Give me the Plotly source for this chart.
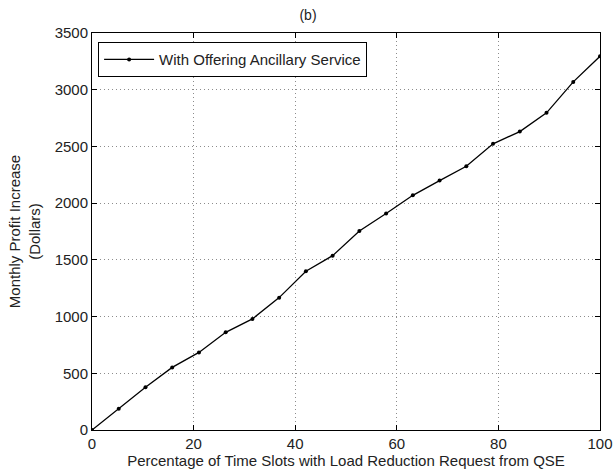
import plotly.graph_objects as go

x_vals = [0, 5.263, 10.526, 15.789, 21.053, 26.316, 31.579, 36.842, 42.105, 47.368,
          52.632, 57.895, 63.158, 68.421, 73.684, 78.947, 84.211, 89.474, 94.737, 100]
profit = [0, 188, 376, 552, 684, 861, 979, 1167, 1399, 1537,
          1755, 1908, 2069, 2199, 2325, 2523, 2631, 2796, 3069, 3295]
series_name = "With Offering Ancillary Service"

font_family = "Liberation Sans, Arial, sans-serif"
fs = 15

fig = go.Figure()
fig.add_trace(go.Scatter(
    x=x_vals, y=profit, mode="lines+markers", name=series_name,
    line=dict(color="black", width=1.3),
    marker=dict(color="black", size=4),
))

axis_common = dict(
    showline=True, linecolor="black", linewidth=1, mirror="ticks",
    ticks="inside", ticklen=5, tickcolor="black",
    showgrid=True, gridcolor="#8c8c8c", griddash="1px,3px", gridwidth=1,
    zeroline=False, automargin=False,
    tickfont=dict(family=font_family, size=fs, color="#222"),
)

fig.update_layout(
    width=616, height=471,
    margin=dict(l=92, r=16, t=33, b=41),
    paper_bgcolor="white", plot_bgcolor="white",
    title=dict(text="(b)", x=0.5, xanchor="center", y=1 - 15 / 471, yanchor="middle",
               font=dict(family=font_family, size=fs - 1, color="#222")),
    xaxis=dict(range=[0, 100], tickvals=[0, 20, 40, 60, 80, 100],
               title=dict(text="Percentage of Time Slots with Load Reduction Request from QSE",
                          font=dict(family=font_family, size=fs, color="#222"), standoff=0),
               **axis_common),
    yaxis=dict(range=[0, 3500], tickvals=list(range(0, 3501, 500)),
               title=dict(text="Monthly Profit Increase<br>(Dollars)",
                          font=dict(family=font_family, size=fs, color="#222"), standoff=10),
               **axis_common),
    showlegend=True,
    legend=dict(x=0.012, y=0.977, xanchor="left", yanchor="top",
                bordercolor="black", borderwidth=1, bgcolor="white",
                font=dict(family=font_family, size=fs, color="#222"),
                itemwidth=50),
)

fig.write_html("out.html")
